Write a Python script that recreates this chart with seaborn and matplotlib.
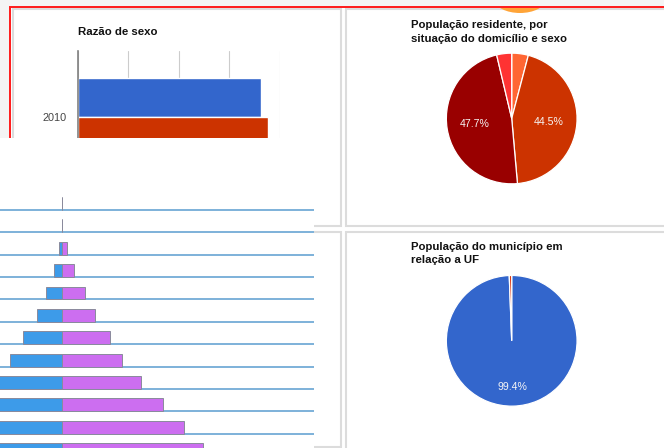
import matplotlib
matplotlib.use("Agg")
import matplotlib.pyplot as plt
from matplotlib.patches import Rectangle, Ellipse
import seaborn as sns
import pandas as pd

# --- data ---
ano = ["2010"]
razao_series = ["Homens", "Mulheres"]
razao_values = [91.0, 94.2]
razao_colors = ["#3366cc", "#cc3300"]

faixas = ["100 anos ou mais", "95 a 99 anos", "90 a 94 anos", "85 a 89 anos",
          "80 a 84 anos", "75 a 79 anos", "70 a 74 anos", "65 a 69 anos",
          "60 a 64 anos", "55 a 59 anos", "50 a 54 anos", "45 a 49 anos"]
homens = [0.00, 0.01, 0.08, 0.20, 0.40, 0.63, 0.98, 1.30, 1.75, 2.20, 2.65, 3.05]
mulheres = [0.00, 0.01, 0.12, 0.30, 0.57, 0.83, 1.20, 1.49, 1.98, 2.52, 3.05, 3.53]

situacao_labels = ["Rural - Homens", "Urbana - Homens", "Urbana - Mulheres", "Rural - Mulheres"]
situacao_values = [4.1, 44.5, 47.7, 3.7]
situacao_colors = ["#ff6633", "#cc3300", "#990000", "#ff3333"]

uf_labels = ["Município", "Restante da UF"]
uf_values = [99.4, 0.6]
uf_colors = ["#3366cc", "#dc3912"]

W, H = 664, 448
TITLE_SIZE = 8.2


def px_rect(x0, y0, x1, y1):
    return [x0 / W, 1 - y1 / H, (x1 - x0) / W, (y1 - y0) / H]


def title(x, y, s):
    fig.text(x / W, 1 - y / H, s, fontsize=TITLE_SIZE, fontweight="bold",
             color="#111111", va="baseline", ha="left")


sns.set_style("white")
plt.rcParams["font.family"] = ["Liberation Sans", "DejaVu Sans"]

fig = plt.figure(figsize=(W / 100, H / 100), dpi=100, facecolor="white")

# page background, cards and the red frame
bg = fig.add_axes([0, 0, 1, 1])
bg.set_xlim(0, W)
bg.set_ylim(H, 0)
bg.set_axis_off()
card = dict(facecolor="white", edgecolor="#dcdcdc", lw=1.5, zorder=1)
bg.add_patch(Rectangle((13, 9.5), 328, 216.5, **card))
bg.add_patch(Rectangle((346, 9.5), 340, 216.5, **card))
bg.add_patch(Rectangle((346, 232), 340, 230, **card))
bg.add_patch(Rectangle((-10, 232), 351, 215, **card))
bg.add_patch(Ellipse((520, 0), 50, 26, color="#ffa438", lw=0, zorder=2))
bg.add_patch(Rectangle((0, 0), W, 7.6, color="#f4f4f4", lw=0, zorder=2.5))
bg.add_patch(Rectangle((0, 0), 9, 140, color="#f4f4f4", lw=0, zorder=2.5))
bg.plot([9.8, 9.8, W + 5], [138, 6.8, 6.8], color="#ff1a1a", lw=1.4,
        solid_joinstyle="miter", zorder=4)

# --- Razão de sexo ---
ax1 = fig.add_axes(px_rect(78, 51, 279.5, 138))
df_razao = pd.DataFrame({"ano": ano * 2, "sexo": razao_series, "valor": razao_values})
sns.barplot(data=df_razao, x="valor", y="ano", hue="sexo", orient="h",
            palette=razao_colors, saturation=1, width=0.8, legend=False, ax=ax1)
ax1.set_xlim(0, 100)
ax1.set_ylim(0.21, -0.68)
ax1.set_xticks([0, 25, 50, 75, 100])
ax1.grid(axis="x", color="#cccccc", lw=0.8)
ax1.set_axisbelow(True)
ax1.patch.set_alpha(0)
for s in ["top", "right", "bottom"]:
    ax1.spines[s].set_visible(False)
ax1.spines["left"].set_color("#808080")
ax1.spines["left"].set_linewidth(1.2)
ax1.tick_params(axis="x", labelbottom=False, length=0)
ax1.tick_params(axis="y", length=0, pad=8, labelsize=7.8, labelcolor="#444444")
ax1.set_xlabel("")
ax1.set_ylabel("")
title(78, 35, "Razão de sexo")

# --- pirâmide etária (parte visível) ---
ax2 = fig.add_axes(px_rect(0, 138, 314, 448))
ax2.set_facecolor("white")
df_pir = pd.DataFrame({"faixa": faixas, "homens": [-v for v in homens], "mulheres": mulheres})
bar_kw = dict(orient="h", saturation=1, width=0.58, edgecolor="#8a8a9c", linewidth=0.7, ax=ax2)
sns.barplot(data=df_pir, x="homens", y="faixa", color="#3d9be9", **bar_kw)
sns.barplot(data=df_pir, x="mulheres", y="faixa", color="#cc6ef0", **bar_kw)
for i in range(len(faixas) - 1):
    ax2.axhline(i + 0.29, color="#5a9ccf", lw=1.1, zorder=0.5)
ax2.set_xlim(-1.55, 6.3)
ax2.set_ylim(10.92, -2.92)
for s in ax2.spines.values():
    s.set_visible(False)
ax2.set_xticks([])
ax2.set_yticks([])
ax2.set_xlabel("")
ax2.set_ylabel("")


# --- pizza: situação do domicílio e sexo ---
def pct_fmt(p):
    return f"{p:.1f}%" if p > 5 else ""


txt = dict(color="#f6f6f6", fontsize=7.6)
ax3 = fig.add_axes(px_rect(511.7 - 66, 118.5 - 66, 511.7 + 66, 118.5 + 66))
ax3.pie(situacao_values, colors=situacao_colors, startangle=90, counterclock=False,
        autopct=pct_fmt, pctdistance=0.57, textprops=txt,
        wedgeprops=dict(edgecolor="white", linewidth=0.9))
ax3.set_xlim(-1.01, 1.01)
ax3.set_ylim(-1.01, 1.01)
title(411, 28.3, "População residente, por")
title(411, 41.7, "situação do domicílio e sexo")

# --- pizza: população do município em relação a UF ---
ax4 = fig.add_axes(px_rect(511.7 - 66, 340.8 - 66, 511.7 + 66, 340.8 + 66))
ax4.pie(uf_values, colors=uf_colors, startangle=90, counterclock=False,
        autopct=pct_fmt, pctdistance=0.70, textprops=txt,
        wedgeprops=dict(edgecolor="white", linewidth=0.9))
ax4.set_xlim(-1.01, 1.01)
ax4.set_ylim(-1.01, 1.01)
title(411, 250, "População do município em")
title(411, 263.3, "relação a UF")

fig.savefig("out.png", dpi=100, facecolor="white")
